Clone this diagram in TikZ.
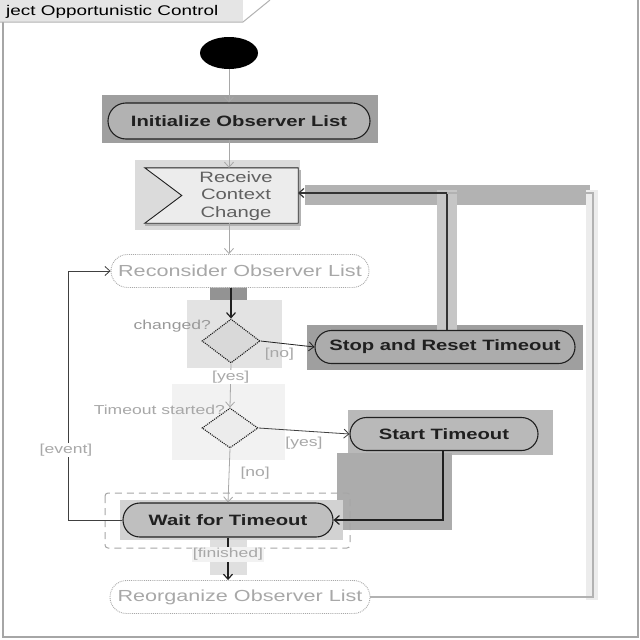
\documentclass[tikz,border=0pt]{standalone}
\usepackage{graphicx}
\usepackage{fontspec}
\setmainfont{Liberation Sans}
\usetikzlibrary{arrows.meta,shapes.geometric,shapes.misc}
\newcommand\sx[1]{\scalebox{1.35}[1]{#1}}
\definecolor{inkdark}{HTML}{202020}
\definecolor{inklight}{HTML}{A8A8A8}
\tikzset{
  pill/.style={rounded rectangle, draw=inkdark, line width=1.1pt, inner sep=0pt,
    font=\fontsize{15}{17}\selectfont\bfseries, text=inkdark},
  ghostpill/.style={rounded rectangle, draw=inklight, densely dotted, line width=0.9pt,
    fill=white, inner sep=0pt, font=\fontsize{16}{18}\selectfont, text=inklight},
  decision/.style={diamond, draw=inkdark, densely dotted, line width=1.1pt, inner sep=0pt},
  lbl/.style={font=\fontsize{13}{15}\selectfont, text=inklight, inner sep=1pt},
  flow/.style={draw=inklight, line width=0.8pt, -{Straight Barb[length=5pt,width=9pt]}},
  darkflow/.style={draw=inkdark, line width=1.2pt, -{Straight Barb[length=5pt,width=9pt]}},
}
\begin{document}
\begin{tikzpicture}[x=1pt,y=-1pt]
\useasboundingbox (0,0) rectangle (640,640);
\fill[white] (0,0) rectangle (640,640);

% frame and title tab
\draw[gray!70, line width=1.5pt] (3,0) -- (3,637) -- (638,637) -- (638,0);
\fill[gray!20] (0,0) -- (243,0) -- (243,22) -- (0,22) -- cycle;
\draw[gray!60, line width=1pt] (0,22) -- (243,22) -- (270,0);
\node[anchor=west, font=\fontsize{14}{16}\selectfont, text=black, inner sep=0pt]
  (title) at (6,12) {\sx{ject Opportunistic Control}};

% shaded highlight areas
\fill[gray!75] (102,95) rectangle (378,143);
\fill[gray!28] (135,160) rectangle (300,230);
\fill[gray!85] (210,287) rectangle (247,320);
\fill[gray!22] (187,300) rectangle (282,368);
\fill[gray!75] (307,325) rectangle (583,370);
\fill[gray!10] (172,384) rectangle (285,460);
\fill[gray!55] (348,410) rectangle (553,455);
\fill[gray!65] (337,453) rectangle (452,530);
\fill[gray!35] (120,500) rectangle (343,540);
\fill[gray!25] (210,540) rectangle (247,575);
\fill[gray!60] (305,185) rectangle (590,205);
\fill[gray!45] (437,190) rectangle (457,330);
\fill[gray!15] (586,190) rectangle (598,600);

% nodes
\node[ellipse, fill=black, minimum width=58pt, minimum height=32pt, inner sep=0pt] (init) at (229,53) {};
\node[pill, fill=gray!60, minimum width=262pt, minimum height=36pt] (initl) at (239,121) {\sx{Initialize Observer List}};

\node[rectangle, minimum width=153pt, minimum height=55pt, inner sep=0pt] (recv) at (221.5,195.5) {};
\draw[gray!60, line width=2pt] ([xshift=2pt,yshift=-2pt]recv.north east) -- ([xshift=2pt,yshift=-2pt]recv.south east) -- ([yshift=-2pt]recv.south west);
\draw[fill=gray!15, draw=inkdark, line width=0.9pt]
  (recv.north west) -- (recv.north east) -- (recv.south east) -- (recv.south west)
  -- ([xshift=37pt]recv.west) -- cycle;
\node[font=\fontsize{15}{17.5}\selectfont, text=gray!75!black, inner sep=0pt] (recvtxt) at (236,196)
  {\sx{\begin{tabular}{@{}c@{}}Receive\\Context\\Change\end{tabular}}};

\node[ghostpill, minimum width=258pt, minimum height=33pt] (reco) at (240,271) {\sx{Reconsider Observer List}};
\node[decision, fill=gray!30, minimum width=58pt, minimum height=44pt] (chg) at (231,341) {};
\node[pill, fill=gray!65, minimum width=260pt, minimum height=33pt] (stop) at (445,347) {\sx{Stop and Reset Timeout}};
\node[decision, fill=gray!15, minimum width=56pt, minimum height=40pt] (tos) at (230,428) {};
\node[pill, fill=gray!55, minimum width=188pt, minimum height=33pt] (start) at (444,434) {\sx{Start Timeout}};
\node[pill, fill=gray!50, minimum width=210pt, minimum height=34pt] (wait) at (228,520) {\sx{Wait for Timeout}};
\node[ghostpill, minimum width=260pt, minimum height=33pt] (reorg) at (240,597) {\sx{Reorganize Observer List}};

% interruptible region
\draw[gray!70, dashed, dash pattern=on 7pt off 5pt, line width=1pt, rounded corners=3pt]
  (105,493) rectangle (350,548);

% labels
\node[lbl, text=gray!80, anchor=east] (lchg) at (212,326) {\sx{changed?}};
\node[lbl, anchor=east] (ltos) at (226,410) {\sx{Timeout started?}};

% connectors
\coordinate (recvE) at (298,193);
\coordinate (loopL) at (68,520);
\coordinate (rightR) at (593,597);
\draw[flow] (init) -- (initl.north -| init);
\draw[flow] (initl.south -| init) -- (recv.north -| init);
\draw[flow] (recv.south -| init) -- (reco.north -| init);
\draw[darkflow] (reco.south -| chg) -- (chg.north);
\draw[draw=inkdark, line width=0.8pt, -{Straight Barb[length=5pt,width=9pt]}] (chg.east) -- (stop.west)
  node[lbl, pos=0.35, below=4pt] (lno1) {\sx{[no]}};
\draw[flow] (chg.south) -- (tos.north) node[lbl, pos=0.3, fill=white] (lyes1) {\sx{[yes]}};
\draw[darkflow, draw=gray!40!black] (stop.north -| 447,0) |- (recvE);
\draw[draw=gray!60, line width=1.2pt] (reorg.east) -- (rightR) -- (593,193) -- (447,193);
\draw[draw=gray!50!black, line width=0.8pt, -{Straight Barb[length=5pt,width=9pt]}] (tos.east) -- (start.west)
  node[lbl, pos=0.5, below=5pt] (lyes2) {\sx{[yes]}};
\draw[flow] (tos.south) -- (wait.north) node[lbl, pos=0.45, right=10pt] (lno2) {\sx{[no]}};
\draw[darkflow] (start.south -| 443,0) |- (wait.east);
\draw[draw=gray!50!black, line width=0.8pt, -{Straight Barb[length=5pt,width=9pt]}] (wait.west) -- (loopL) |- (reco.west);
\node[lbl, fill=white] (levent) at (66,450) {\sx{[event]}};
\draw[darkflow] (wait.south) -- (reorg.north -| wait) node[lbl, pos=0.4, fill=gray!10] (lfin) {\sx{[finished]}};
\end{tikzpicture}
\end{document}
